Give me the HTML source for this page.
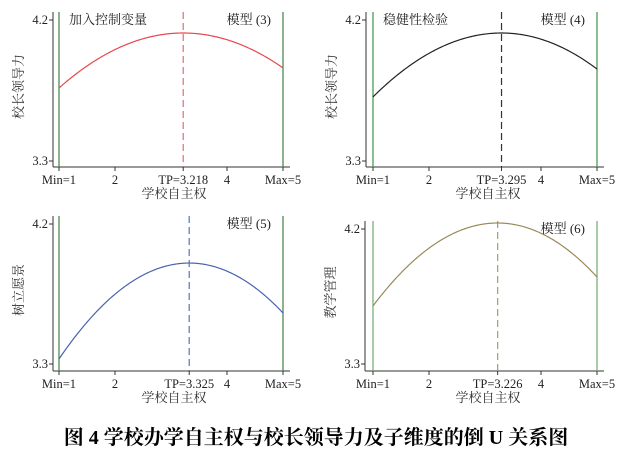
<!DOCTYPE html>
<html><head><meta charset="utf-8">
<style>
body{margin:0;background:#fff;width:622px;height:462px;overflow:hidden}
svg{font-family:"Liberation Serif","Noto Serif CJK SC",serif}
</style></head>
<body>
<svg id="fig" width="622" height="462" viewBox="0 0 622 462" xmlns="http://www.w3.org/2000/svg">
<text x="316" y="444" text-anchor="middle" font-size="20" font-weight="bold" fill="#000">图 4  学校办学自主权与校长领导力及子维度的倒 U 关系图</text>
</svg>
<script>
// Data
const tpValues = [3.218, 3.295, 3.325, 3.226];
const peakValues = [4.117, 4.117, 3.949, 4.24];
const minEndValues = [3.766, 3.709, 3.332, 3.687];
const maxEndValues = [3.894, 3.887, 3.628, 3.88];
const yTickLabels = ["3.3", "4.2"];
const yTickValues = [3.3, 4.2];
const xTickValues = [2, 4];
const yTitles = ["校长领导力", "校长领导力", "树立愿景", "教学管理"];
const modelLabels = ["模型 (3)", "模型 (4)", "模型 (5)", "模型 (6)"];
const cornerNotes = ["加入控制变量", "稳健性检验", "", ""];

const panels = [
  {ax:53, y42:20, y33:161, base:167, x1:59, color:"#e8474e", dash:"#d9707a", vcolor:"#4e8a55"},
  {ax:366, y42:20, y33:161, base:167, x1:373, color:"#222", dash:"#333", vcolor:"#4e9a55"},
  {ax:53, y42:224, y33:364, base:371, x1:59, color:"#4a62b0", dash:"#5a72c0", vcolor:"#4e8a55"},
  {ax:365, y42:229, y33:364, base:371, x1:373, color:"#9a8a5a", dash:"#a89a70", vcolor:"#7ab07a"}
];
const svg = document.getElementById('fig');
const NS = "http://www.w3.org/2000/svg";
function mk(tag, attrs, parent){
  const e = document.createElementNS(NS, tag);
  for (const k in attrs) e.setAttribute(k, attrs[k]);
  (parent||svg).appendChild(e);
  return e;
}
panels.forEach((p, i) => {
  const g = mk('g', {});
  
  
  const sx = v => p.x1 + (v - 1) * 56;
  const sy = v => p.y33 - (v - 3.3) / 0.9 * (p.y33 - p.y42);
  const top = p.y42 - 8;
  const ya = mk('line', {x1:p.ax, y1:top, x2:p.ax, y2:p.base, stroke:'#333', 'stroke-width':1}, g);
  
  
  const xa = mk('line', {x1:p.ax, y1:p.base, x2:sx(5)+7, y2:p.base, stroke:'#333', 'stroke-width':1}, g);
  
  
  yTickValues.forEach((v, j) => {
    const y = sy(v);
    mk('line', {x1:p.ax-4, y1:y, x2:p.ax, y2:y, stroke:'#333'}, g);
    const t = mk('text', {x:p.ax-5, y:y+4, 'text-anchor':'end', 'font-size':12.5, fill:'#222'}, g);
    
    
    t.textContent = yTickLabels[j];
  });
  const xt = [[1, 'Min=1'], [xTickValues[0], String(xTickValues[0])], [tpValues[i], 'TP=' + tpValues[i].toFixed(3)], [xTickValues[1], String(xTickValues[1])], [5, 'Max=5']];
  xt.forEach(([v, lab]) => {
    const x = sx(v);
    mk('line', {x1:x, y1:p.base, x2:x, y2:p.base+4, stroke:'#333'}, g);
    const t = mk('text', {x:x, y:p.base+17, 'text-anchor':'middle', 'font-size':12.5, fill:'#222'}, g);
    
    
    t.textContent = lab;
  });
  const xt2 = mk('text', {x:(sx(1)+sx(5))/2 + 3, y:p.base+31, 'text-anchor':'middle', 'font-size':13, fill:'#333'}, g);
  
  
  xt2.textContent = '学校自主权';
  const cy = (p.y42 + p.y33)/2 - 4;
  const yt = mk('text', {x:0, y:0, 'text-anchor':'middle', 'font-size':13, fill:'#333', transform:`translate(${p.ax-30},${cy}) rotate(-90)`}, g);
  
  
  yt.textContent = yTitles[i];
  [1, 5].forEach(v => {
    const l = mk('line', {x1:sx(v), y1:top, x2:sx(v), y2:p.base, stroke:p.vcolor, 'stroke-width':1.3}, g);
    
    
  });
  const tl = mk('line', {x1:sx(tpValues[i]), y1:top, x2:sx(tpValues[i]), y2:p.base, stroke:p.dash, 'stroke-width':1.2, 'stroke-dasharray':'7,4'}, g);
  
  
  const tp = tpValues[i], pk = peakValues[i];
  const aL = (pk - minEndValues[i]) / Math.pow(tp - 1, 2);
  const aR = (pk - maxEndValues[i]) / Math.pow(5 - tp, 2);
  let d = '';
  for (let k = 0; k <= 200; k++) {
    const x = 1 + 4 * k / 200;
    const a = x < tp ? aL : aR;
    const v = pk - a * (x - tp) * (x - tp);
    d += (k ? 'L' : 'M') + sx(x).toFixed(2) + ',' + sy(v).toFixed(2);
  }
  const c = mk('path', {d:d, fill:'none', stroke:p.color, 'stroke-width':1.2}, g);
  
  
  const ml = mk('text', {x:sx(5)-12, y:p.y42+4, 'text-anchor':'end', 'font-size':13, fill:'#222'}, g);
  
  
  ml.textContent = modelLabels[i];
  if (cornerNotes[i]) {
    const cn = mk('text', {x:sx(1)+10, y:p.y42+4, 'font-size':13, fill:'#222'}, g);
    
    
    cn.textContent = cornerNotes[i];
  }
});
</script>
</body></html>
